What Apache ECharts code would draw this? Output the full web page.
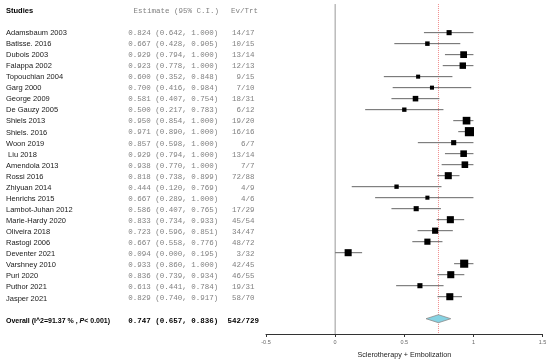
<!DOCTYPE html>
<html><head><meta charset="utf-8">
<script src="https://cdn.jsdelivr.net/npm/echarts@6/dist/echarts.min.js"></script>
<style>html,body{margin:0;padding:0;background:#fff}#c{width:550px;height:364px}</style>
</head><body><div id="c"></div>
<script>
// ---- data ----
const studies = ['Adamsbaum 2003','Batisse. 2016','Dubois 2003','Falappa 2002','Topouchian 2004','Garg 2000','George 2009','De Gauzy 2005','Shiels 2013','Shiels. 2016','Woon 2019',' Liu 2018','Amendola 2013','Rossi 2016','Zhiyuan 2014','Henrichs 2015','Lambot-Juhan 2012','Marie-Hardy 2020','Oliveira 2018','Rastogi 2006','Deventer 2021','Varshney 2010','Puri 2020','Puthor 2021','Jasper 2021'];
const estimates = [0.824,0.667,0.929,0.923,0.600,0.700,0.581,0.500,0.950,0.971,0.857,0.929,0.938,0.818,0.444,0.667,0.586,0.833,0.723,0.667,0.094,0.933,0.836,0.613,0.829];
const lower = [0.642,0.428,0.794,0.778,0.352,0.416,0.407,0.217,0.854,0.890,0.598,0.794,0.770,0.738,0.120,0.289,0.407,0.734,0.596,0.558,0.000,0.860,0.739,0.441,0.740];
const upper = [1.000,0.905,1.000,1.000,0.848,0.984,0.754,0.783,1.000,1.000,1.000,1.000,1.000,0.899,0.769,1.000,0.765,0.933,0.851,0.776,0.195,1.000,0.934,0.784,0.917];
const events = [14,10,13,12,9,7,18,6,19,16,6,13,7,72,4,4,17,45,34,48,3,42,46,19,58];
const totals = [17,15,14,13,15,10,31,12,20,16,7,14,7,88,9,6,29,54,47,72,32,45,55,31,70];
const weights = [3.4,3.0,4.5,4.3,2.7,2.7,3.7,2.9,5.1,6.1,3.4,4.4,4.4,4.7,2.9,2.7,3.4,4.7,4.1,4.1,4.7,5.4,4.7,3.4,4.7];
const overallLabel = 'Overall (I^2=91.37 % , ';
const overallP = 'P';
const overallPText = '< 0.001)';
const overallCI = [0.747, 0.657, 0.836];
const overallCounts = [542, 729];
const headers = ['Studies', 'Estimate (95% C.I.)', 'Ev/Trt'];
const xTicks = [-0.5, 0, 0.5, 1, 1.5];
const xAxisTitle = 'Sclerotherapy + Embolization';

// ---- layout ----
const ROW0 = 2, OVERALL_ROW = 28;
const Y_MIN = -0.967, Y_MAX = 29.39;
const SANS = '"Liberation Sans", Arial, sans-serif';
const MONO = '"Liberation Mono", "Courier New", monospace';
const fmt = v => v.toFixed(3);

const chart = echarts.init(document.getElementById('c'), null, {renderer: 'canvas'});

const studyData = studies.map((s, i) => [lower[i], upper[i], estimates[i], i + ROW0, weights[i]]);
const textData = studies.map((s, i) => [0, i + ROW0, i]);

const option = {
  animation: false,
  backgroundColor: '#fff',
  grid: [
    {left: 266, right: 7.4, top: 0, bottom: 28},
    {left: 0, width: 266, top: 0, bottom: 28}
  ],
  xAxis: [
    {
      gridIndex: 0, type: 'value', min: -0.5, max: 1.5, interval: 0.5, position: 'bottom',
      axisLine: {show: true, onZero: false, lineStyle: {color: '#333', width: 1}},
      axisTick: {show: true, length: 3, lineStyle: {color: '#333'}},
      axisLabel: {fontSize: 5.5, color: '#666', margin: 5, fontFamily: SANS,
        formatter: v => (xTicks.indexOf(v) >= 0 ? String(v) : '')},
      splitLine: {show: false},
      name: xAxisTitle, nameLocation: 'middle', nameGap: 18,
      nameTextStyle: {fontSize: 7.2, color: '#222', fontFamily: SANS}
    },
    {gridIndex: 1, type: 'value', min: 0, max: 266, show: false}
  ],
  yAxis: [
    {gridIndex: 0, type: 'value', min: Y_MIN, max: Y_MAX, inverse: true, show: false},
    {gridIndex: 1, type: 'value', min: Y_MIN, max: Y_MAX, inverse: true, show: false}
  ],
  series: [
    {
      type: 'custom', xAxisIndex: 0, yAxisIndex: 0, clip: false, silent: true,
      data: [[0, -0.6, Y_MAX, 0], [overallCI[0], -0.6, Y_MAX, 1]],
      encode: {x: 0, y: [1, 2]},
      renderItem: (params, api) => {
        const a = api.coord([api.value(0), api.value(1)]);
        const b = api.coord([api.value(0), api.value(2)]);
        const red = api.value(3) === 1;
        return {type: 'line', shape: {x1: a[0], y1: a[1], x2: b[0], y2: b[1]},
          style: red ? {stroke: '#f08a8a', lineWidth: 1, lineDash: [1, 1]} : {stroke: '#999', lineWidth: 1}};
      }
    },
    {
      type: 'custom', xAxisIndex: 0, yAxisIndex: 0, clip: false, silent: true,
      data: studyData,
      encode: {x: [0, 1, 2], y: 3},
      renderItem: (params, api) => {
        const y = api.value(3);
        const p1 = api.coord([api.value(0), y]);
        const p2 = api.coord([api.value(1), y]);
        const c = api.coord([api.value(2), y]);
        const s = api.value(4) * 1.5;
        return {type: 'group', children: [
          {type: 'line', shape: {x1: p1[0], y1: p1[1], x2: p2[0], y2: p2[1]}, style: {stroke: '#666', lineWidth: 1}},
          {type: 'rect', shape: {x: c[0] - s / 2, y: c[1] - s / 2, width: s, height: s}, style: {fill: '#000'}}
        ]};
      }
    },
    {
      type: 'custom', xAxisIndex: 0, yAxisIndex: 0, clip: false, silent: true,
      data: [[overallCI[1], overallCI[0], overallCI[2], OVERALL_ROW]],
      encode: {x: [0, 1, 2], y: 3},
      renderItem: (params, api) => {
        const y = api.value(3);
        const l = api.coord([api.value(0), y]);
        const m = api.coord([api.value(1), y]);
        const r = api.coord([api.value(2), y]);
        const h = 4;
        return {type: 'polygon', shape: {points: [[l[0], l[1]], [m[0], m[1] - h], [r[0], r[1]], [m[0], m[1] + h]]},
          style: {fill: '#86d3e3', stroke: '#8a8a8a', lineWidth: 0.8}};
      }
    },
    {
      type: 'custom', xAxisIndex: 1, yAxisIndex: 1, clip: false, silent: true,
      data: textData,
      encode: {x: 0, y: 1},
      renderItem: (params, api) => {
        const i = api.value(2);
        const y = api.coord([0, api.value(1)])[1];
        const xName = api.coord([6, 0])[0];
        const xEst = api.coord([128.3, 0])[0];
        const xEv = api.coord([254.5, 0])[0];
        return {type: 'group', children: [
          {type: 'text', x: xName, y: y, style: {text: studies[i], font: '7.5px ' + SANS, fill: '#1a1a1a', align: 'left', verticalAlign: 'middle'}},
          {type: 'text', x: xEst, y: y, style: {text: fmt(estimates[i]) + ' (' + fmt(lower[i]) + ', ' + fmt(upper[i]) + ')', font: '7.5px ' + MONO, fill: '#808080', align: 'left', verticalAlign: 'middle'}},
          {type: 'text', x: xEv, y: y, style: {text: events[i] + '/' + totals[i], font: '7.5px ' + MONO, fill: '#808080', align: 'right', verticalAlign: 'middle'}}
        ]};
      }
    },
    {
      type: 'custom', xAxisIndex: 1, yAxisIndex: 1, clip: false, silent: true,
      data: [[0, 0, 0], [0, OVERALL_ROW, 1]],
      encode: {x: 0, y: 1},
      renderItem: (params, api) => {
        const y = api.coord([0, api.value(1)])[1];
        const X = v => api.coord([v, 0])[0];
        if (api.value(2) === 0) {
          return {type: 'group', children: [
            {type: 'text', x: X(6), y: y, style: {text: headers[0], font: 'bold 7.5px ' + SANS, fill: '#000', align: 'left', verticalAlign: 'middle'}},
            {type: 'text', x: X(133.5), y: y, style: {text: headers[1], font: '7.5px ' + MONO, fill: '#808080', align: 'left', verticalAlign: 'middle'}},
            {type: 'text', x: X(231), y: y, style: {text: headers[2], font: '7.5px ' + MONO, fill: '#808080', align: 'left', verticalAlign: 'middle'}}
          ]};
        }
        return {type: 'group', children: [
          {type: 'text', x: X(6), y: y, style: {
            text: '{a|' + overallLabel + '}{b|' + overallP + '}{a|' + overallPText + '}',
            align: 'left', verticalAlign: 'middle',
            rich: {
              a: {font: 'bold 7px ' + SANS, fill: '#000'},
              b: {font: 'italic bold 7px ' + SANS, fill: '#000'}
            }}},
          {type: 'text', x: X(128.3), y: y, style: {text: fmt(overallCI[0]) + ' (' + fmt(overallCI[1]) + ', ' + fmt(overallCI[2]) + ')', font: 'bold 7.5px ' + MONO, fill: '#000', align: 'left', verticalAlign: 'middle'}},
          {type: 'text', x: X(259), y: y, style: {text: overallCounts[0] + '/' + overallCounts[1], font: 'bold 7.5px ' + MONO, fill: '#000', align: 'right', verticalAlign: 'middle'}}
        ]};
      }
    }
  ]
};
chart.setOption(option);
</script>
</body></html>
